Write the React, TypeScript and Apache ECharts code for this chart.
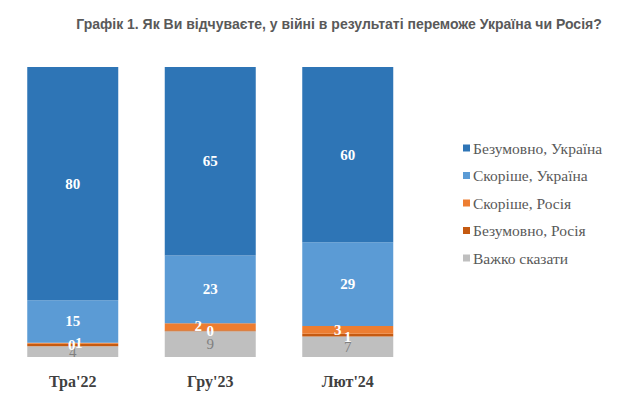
import React, { useEffect, useRef } from "react";
import * as echarts from "echarts";

const categories = ["Тра'22", "Гру'23", "Лют'24"];
const seriesNames = [
  "Безумовно, Україна",
  "Скоріше, Україна",
  "Скоріше, Росія",
  "Безумовно, Росія",
  "Важко сказати",
];
const certainlyUkraine = [80.4, 65.0, 60.4];
const ratherUkraine = [14.7, 23.4, 28.9];
const ratherRussia = [0.3, 2.4, 2.7];
const certainlyRussia = [0.9, 0.3, 0.9];
const hardToSay = [3.7, 8.9, 7.1];

const title = "Графік 1. Як Ви відчуваєте, у війні в результаті переможе Україна чи Росія?";

// label nudges for the tiny overlapping segments
const ratherRussiaOffsets = [[-1, 2], [-12, -1], [-10, 0]];
const certainlyRussiaOffsets = [[6, -2], [0, 0], [0, 2]];

const SERIF = "Liberation Serif";

export default function App() {
  const ref = useRef<HTMLDivElement>(null);
  useEffect(() => {
    if (!ref.current) return;
    const chart = echarts.init(ref.current, undefined, { renderer: "svg" });
    const whiteLabel = {
      show: true,
      position: "inside",
      color: "#ffffff",
      fontFamily: SERIF,
      fontWeight: "bold",
      fontSize: 15,
      formatter: (p: any) => String(Math.round(p.value)),
    };
    const mk = (name: string, data: number[], color: string, label: any, offsets?: number[][]) => ({
      name,
      type: "bar",
      stack: "total",
      barWidth: 91,
      itemStyle: { color },
      label,
      data: data.map((v, i) =>
        offsets ? { value: v, label: { offset: offsets[i] } } : v
      ),
    });
    chart.setOption({
      animation: false,
      textStyle: { fontFamily: SERIF },
      title: {
        text: title,
        left: 334,
        textAlign: "center",
        top: 12,
        textStyle: {
          fontFamily: "Liberation Sans",
          fontWeight: "bold",
          fontSize: 14,
          color: "#595959",
        },
      },
      legend: {
        orient: "vertical",
        left: 458,
        top: 135,
        itemWidth: 7,
        itemHeight: 7,
        itemGap: 11.5,
        icon: "rect",
        data: seriesNames,
        textStyle: { fontFamily: SERIF, fontSize: 15.5, color: "#595959", padding: [0, 0, 0, -2] },
      },
      grid: { left: 4, right: 220.5, top: 67, bottom: 41 },
      xAxis: {
        type: "category",
        data: categories,
        axisLine: { show: false },
        axisTick: { show: false },
        axisLabel: {
          margin: 16,
          fontFamily: SERIF,
          fontWeight: "bold",
          fontSize: 16,
          color: "#404040",
        },
      },
      yAxis: { type: "value", min: 0, max: 100, show: false, splitLine: { show: false } },
      series: [
        mk(seriesNames[4], hardToSay, "#BFBFBF", { ...whiteLabel, color: "#7F7F7F", fontWeight: "normal" }),
        mk(seriesNames[3], certainlyRussia, "#C55A11", whiteLabel, certainlyRussiaOffsets),
        mk(seriesNames[2], ratherRussia, "#ED7D31", whiteLabel, ratherRussiaOffsets),
        mk(seriesNames[1], ratherUkraine, "#5B9BD5", whiteLabel),
        mk(seriesNames[0], certainlyUkraine, "#2E75B6", whiteLabel),
      ],
    });
    return () => chart.dispose();
  }, []);
  return (
    <div
      ref={ref}
      style={{ position: "absolute", left: 0, top: 0, width: 637, height: 398, background: "#fff" }}
    />
  );
}
